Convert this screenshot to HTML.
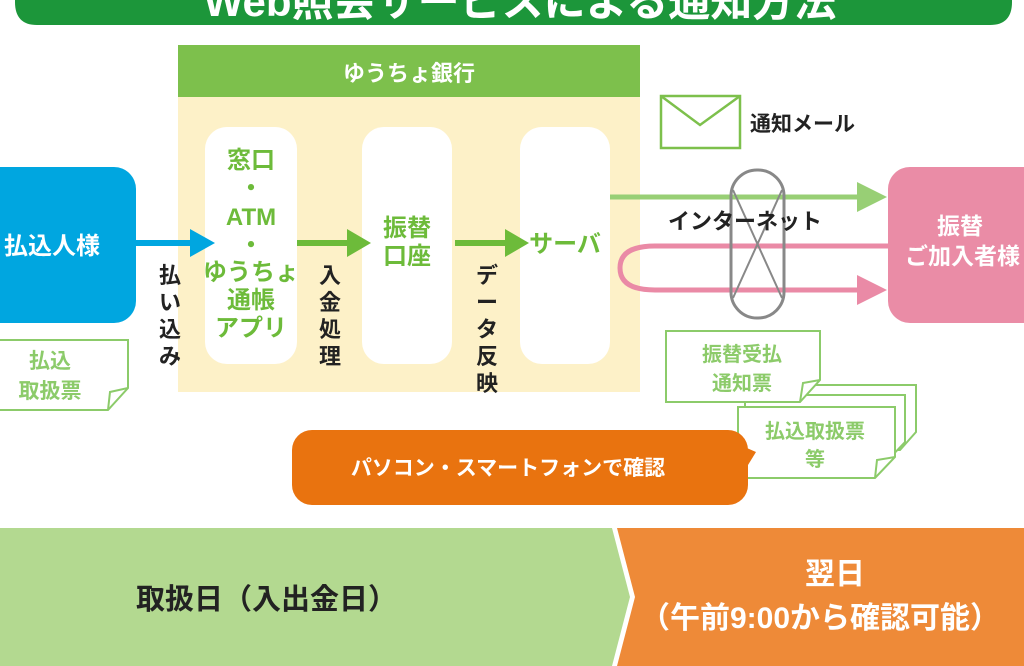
<!DOCTYPE html>
<html><head><meta charset="utf-8"><style>
html,body{margin:0;padding:0;background:#fff;width:1024px;height:666px;overflow:hidden}
svg{display:block}
text{font-family:"Liberation Sans","Noto Sans CJK JP",sans-serif;font-weight:bold}
</style></head><body>
<svg width="1024" height="666" viewBox="0 0 1024 666" xmlns="http://www.w3.org/2000/svg">
<!-- title bar -->
<path d="M15,-10 H1012 V2 Q1012,25 990,25 H37 Q15,25 15,2 Z" fill="#1c963a"/>
<text x="520" y="16" font-size="42" fill="#fff" text-anchor="middle">Web照会サービスによる通知方法</text>

<!-- bank -->
<rect x="178" y="97" width="462" height="295" fill="#fdf1c8"/>
<rect x="178" y="45" width="462" height="52" fill="#7dc04c"/>
<text x="409" y="81" font-size="22" fill="#fff" text-anchor="middle">ゆうちょ銀行</text>

<rect x="205" y="127" width="92" height="237" rx="22" fill="#fff"/>
<rect x="362" y="127" width="90" height="237" rx="22" fill="#fff"/>
<rect x="520" y="127" width="90" height="237" rx="22" fill="#fff"/>

<g fill="#6dbb3a" font-size="24" text-anchor="middle">
<text x="251" y="168">窓口</text>
<text x="251" y="196">・</text>
<text x="251" y="225">ATM</text>
<text x="251" y="253">・</text>
<text x="251" y="280">ゆうちょ</text>
<text x="251" y="308">通帳</text>
<text x="251" y="336">アプリ</text>
<text x="407" y="236">振替</text>
<text x="407" y="264">口座</text>
<text x="565" y="252">サーバ</text>
</g>

<!-- payer -->
<rect x="-30" y="167" width="166" height="156" rx="22" fill="#00a6e0"/>
<text x="52" y="254" font-size="24" fill="#fff" text-anchor="middle" font-weight="normal">払込人様</text>
<path d="M135,243 H192" stroke="#00a6e0" stroke-width="6"/>
<path d="M190,229 L215,243 L190,257 Z" fill="#00a6e0"/>

<path d="M297,243 H350" stroke="#6dbb3a" stroke-width="6"/>
<path d="M347,229 L371,243 L347,257 Z" fill="#6dbb3a"/>
<path d="M455,243 H508" stroke="#6dbb3a" stroke-width="6"/>
<path d="M505,229 L529,243 L505,257 Z" fill="#6dbb3a"/>

<g fill="#222" font-size="22" text-anchor="middle">
<text x="170" y="283">払</text><text x="170" y="310">い</text><text x="170" y="337">込</text><text x="170" y="364">み</text>
<text x="330" y="283">入</text><text x="330" y="310">金</text><text x="330" y="337">処</text><text x="330" y="364">理</text>
<text x="487" y="283">デ</text><text x="487" y="310">ー</text><text x="487" y="337">タ</text><text x="487" y="364">反</text><text x="487" y="391">映</text>
</g>

<!-- doc left -->
<path d="M0,340 H128 V388 L108,410 H0" fill="#fff" stroke="#8ccb6a" stroke-width="2"/>
<path d="M108,410 L110,392 L128,388" fill="none" stroke="#8ccb6a" stroke-width="2"/>
<g fill="#8ccb6a" font-size="21" text-anchor="middle" font-weight="normal"><text x="50" y="368">払込</text><text x="50" y="398">取扱票</text></g>

<!-- envelope -->
<rect x="661" y="96" width="79" height="52" fill="#fff" stroke="#7dc04c" stroke-width="2.5"/>
<path d="M661,96 L700,125 L740,96" fill="none" stroke="#7dc04c" stroke-width="2.5"/>
<text x="750" y="131" font-size="21" fill="#222" font-weight="normal">通知メール</text>

<!-- internet -->
<path d="M610,197 H862" stroke="#98cf75" stroke-width="5"/>
<path d="M857,182 L887,197 L857,212 Z" fill="#98cf75"/>
<path d="M888,246 H655 Q620,246 620,268 Q620,290 655,290 H862" fill="none" stroke="#ea8aa6" stroke-width="5"/>
<path d="M857,275 L887,290 L857,305 Z" fill="#ea8aa6"/>
<rect x="731" y="170" width="53" height="148" rx="26" fill="none" stroke="#888" stroke-width="3"/>
<path d="M733,190 L782,298 M782,190 L733,298" stroke="#888" stroke-width="2"/>
<text x="668" y="229" font-size="22" fill="#222" font-weight="normal">インターネット</text>

<!-- payee -->
<rect x="888" y="167" width="170" height="156" rx="22" fill="#ea8ca6"/>
<g fill="#fff" font-size="23" text-anchor="start" font-weight="normal"><text x="937" y="234">振替</text><text x="905" y="264">ご加入者様</text></g>

<!-- docs right -->
<g fill="#fff" stroke="#8ccb6a" stroke-width="2">
<path d="M750,385 H916 V432 L900,450 H750 Z"/>
<path d="M745,395 H905 V442 L888,460 H745 Z"/>
<path d="M666,331 H820 V380 L800,402 H666 Z"/>
<path d="M738,407 H895 V457 L875,478 H738 Z"/>
</g>
<path d="M800,402 L803,383 L820,380 M875,478 L877,460 L895,457" fill="none" stroke="#8ccb6a" stroke-width="2"/>
<g fill="#8ccb6a" font-size="20" text-anchor="middle" font-weight="normal">
<text x="742" y="361">振替受払</text><text x="742" y="390">通知票</text>
<text x="815" y="438">払込取扱票</text><text x="815" y="466">等</text></g>

<!-- orange bubble -->
<rect x="292" y="430" width="456" height="75" rx="20" fill="#e9730f"/>
<path d="M740,445 L756,452 L740,478 Z" fill="#e9730f"/>
<text x="508" y="475" font-size="21" fill="#fff" text-anchor="middle" font-weight="normal">パソコン・スマートフォンで確認</text>

<!-- bottom bar -->
<path d="M0,528 H612 L630,597 L612,666 H0 Z" fill="#b3d990"/>
<path d="M617,528 H1024 V666 H617 L635,597 Z" fill="#ee8a38"/>
<text x="136" y="609" font-size="29" fill="#222" font-weight="normal">取扱日（入出金日）</text>
<text x="835" y="584" font-size="30" fill="#fff" text-anchor="middle">翌日</text>
<text x="640" y="628" font-size="30" fill="#fff">（午前9:00から確認可能）</text>
</svg>
</body></html>
